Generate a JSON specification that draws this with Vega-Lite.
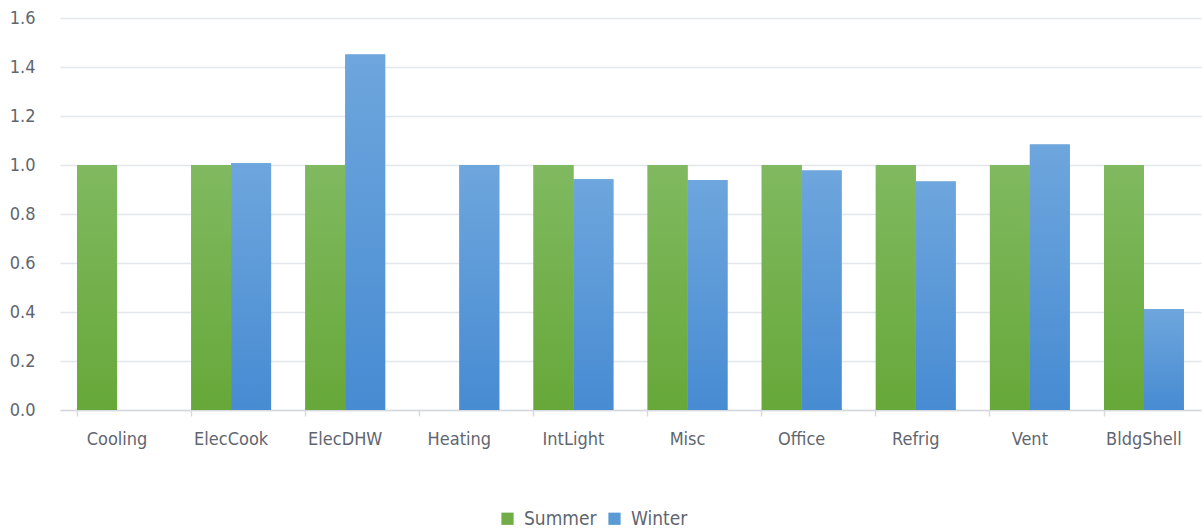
{
  "$schema": "https://vega.github.io/schema/vega-lite/v6.json",
  "autosize": "none",
  "width": 1141,
  "height": 392,
  "padding": {"left": 60, "top": 18, "right": 3, "bottom": 121},
  "background": "white",
  "config": {
    "view": {"stroke": null},
    "font": "Liberation Sans Narrow, DejaVu Sans Condensed, sans-serif"
  },
  "data": {
    "values": [
      {"category": "Cooling", "season": "Summer", "value": 1.0},
      {"category": "ElecCook", "season": "Summer", "value": 1.0},
      {"category": "ElecCook", "season": "Winter", "value": 1.007},
      {"category": "ElecDHW", "season": "Summer", "value": 1.0},
      {"category": "ElecDHW", "season": "Winter", "value": 1.451},
      {"category": "Heating", "season": "Winter", "value": 1.0},
      {"category": "IntLight", "season": "Summer", "value": 1.0},
      {"category": "IntLight", "season": "Winter", "value": 0.942},
      {"category": "Misc", "season": "Summer", "value": 1.0},
      {"category": "Misc", "season": "Winter", "value": 0.939},
      {"category": "Office", "season": "Summer", "value": 1.0},
      {"category": "Office", "season": "Winter", "value": 0.978},
      {"category": "Refrig", "season": "Summer", "value": 1.0},
      {"category": "Refrig", "season": "Winter", "value": 0.933},
      {"category": "Vent", "season": "Summer", "value": 1.0},
      {"category": "Vent", "season": "Winter", "value": 1.084},
      {"category": "BldgShell", "season": "Summer", "value": 1.0},
      {"category": "BldgShell", "season": "Winter", "value": 0.412}
    ]
  },
  "encoding": {
    "x": {
      "field": "category",
      "type": "nominal",
      "sort": ["Cooling", "ElecCook", "ElecDHW", "Heating", "IntLight", "Misc", "Office", "Refrig", "Vent", "BldgShell"],
      "scale": {"paddingInner": 0.3, "paddingOuter": 0.15},
      "axis": {
        "title": null,
        "labelAngle": 0,
        "labelFontSize": 18,
        "labelColor": "#5f6670",
        "labelPadding": 14,
        "domainColor": "#d6dae0",
        "domainWidth": 1.5,
        "ticks": true,
        "bandPosition": 0,
        "tickColor": "#d6dae0",
        "tickSize": 6,
        "tickWidth": 1.5,
        "grid": false
      }
    },
    "xOffset": {
      "field": "season",
      "type": "nominal",
      "scale": {"domain": ["Summer", "Winter"]}
    },
    "y": {
      "field": "value",
      "type": "quantitative",
      "scale": {"domain": [0, 1.6], "nice": false},
      "axis": {
        "title": null,
        "values": [0, 0.2, 0.4, 0.6, 0.8, 1.0, 1.2, 1.4, 1.6],
        "format": ".1f",
        "labelFontSize": 18,
        "labelColor": "#5f6670",
        "labelPadding": 25,
        "ticks": false,
        "domain": false,
        "gridColor": "#e3e6eb",
        "gridWidth": 1.5
      }
    }
  },
  "layer": [
    {
      "mark": {"type": "bar"},
      "encoding": {
        "color": {
          "field": "season",
          "type": "nominal",
          "scale": {"domain": ["Summer", "Winter"], "range": ["#70ad47", "#5b9bd5"]},
          "legend": {
            "title": null,
            "orient": "none",
            "direction": "horizontal",
            "legendX": 438,
            "legendY": 491,
            "symbolType": "square",
            "symbolSize": 150,
            "symbolStrokeWidth": 0,
            "labelFontSize": 19,
            "labelColor": "#5f6670",
            "columnPadding": 8,
            "labelOffset": 7
          }
        }
      }
    },
    {
      "transform": [{"filter": "datum.season === 'Summer'"}],
      "mark": {
        "type": "bar",
        "fill": {
          "gradient": "linear", "x1": 0, "y1": 0, "x2": 0, "y2": 1,
          "stops": [{"offset": 0, "color": "#80b960"}, {"offset": 1, "color": "#67a839"}]
        }
      }
    },
    {
      "transform": [{"filter": "datum.season === 'Winter'"}],
      "mark": {
        "type": "bar",
        "fill": {
          "gradient": "linear", "x1": 0, "y1": 0, "x2": 0, "y2": 1,
          "stops": [{"offset": 0, "color": "#6ea6dd"}, {"offset": 1, "color": "#478bd2"}]
        }
      }
    }
  ]
}
